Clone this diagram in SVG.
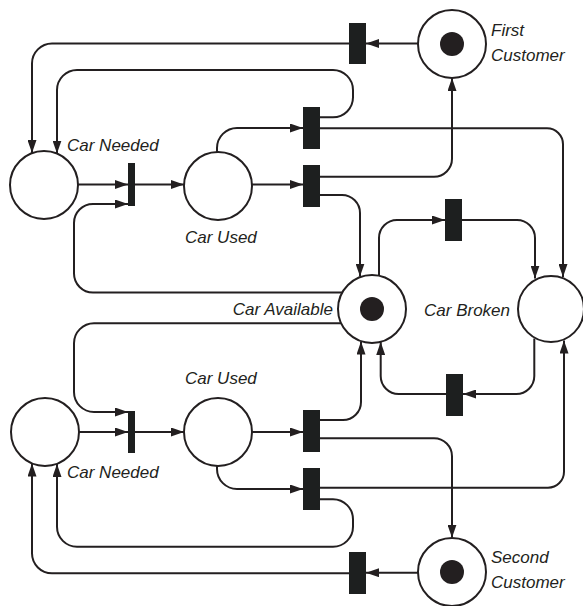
<svg xmlns="http://www.w3.org/2000/svg" width="583" height="606" viewBox="0 0 583 606">
<style>
.p{fill:#fff;stroke:#231f20;stroke-width:2}
.tok{fill:#231f20}
.t{fill:#1d1f1f}
.c{fill:none;stroke:#231f20;stroke-width:2}
.l{font-family:"Liberation Sans",Arial,sans-serif;font-style:italic;font-size:17px;fill:#231f20}
</style>
<defs>
<marker id="a" markerWidth="13" markerHeight="9" refX="13" refY="4.5" orient="auto" markerUnits="userSpaceOnUse"><path d="M0,0 L13,4.5 L0,9 z" fill="#231f20"/></marker>
</defs>
<rect width="583" height="606" fill="#fff"/>
<g id="connectors">
<path class="c" marker-end="url(#a)" d="M418 43.5 H366"/>
<path class="c" marker-end="url(#a)" d="M349 43.5 H52 A20 20 0 0 0 32 63.5 V153"/>
<path class="c" marker-end="url(#a)" d="M320 117.3 H333 A20 20 0 0 0 353 97.3 V90 A20 20 0 0 0 333 70 H77 A20 20 0 0 0 57 90 V153.5"/>
<path class="c" marker-end="url(#a)" d="M217 152 V148 A20 20 0 0 1 237 128 H303"/>
<path class="c" marker-end="url(#a)" d="M320 128.3 H547 A16 16 0 0 1 563 144.3 V277"/>
<path class="c" marker-end="url(#a)" d="M78 184.5 H128"/>
<path class="c" marker-end="url(#a)" d="M135 184.5 H184"/>
<path class="c" marker-end="url(#a)" d="M252 184.5 H303"/>
<path class="c" marker-end="url(#a)" d="M320 176.7 H434 A18 18 0 0 0 452 158.7 V78"/>
<path class="c" marker-end="url(#a)" d="M320 195 H342 A18 18 0 0 1 360 213 V276.5"/>
<path class="c" marker-end="url(#a)" d="M343 292.5 H93 A19 19 0 0 1 74 273.5 V223 A19 19 0 0 1 93 204 H128"/>
<path class="c" marker-end="url(#a)" d="M341 323.3 H94 A20 20 0 0 0 74 343.3 V392 A20 20 0 0 0 94 412 H128"/>
<path class="c" marker-end="url(#a)" d="M379 275.7 V238 A18 18 0 0 1 397 220 H445"/>
<path class="c" marker-end="url(#a)" d="M462 220 H517 A18 18 0 0 1 535 238 V278.5"/>
<path class="c" marker-end="url(#a)" d="M534.3 338.6 V376 A18 18 0 0 1 516.3 394 H463"/>
<path class="c" marker-end="url(#a)" d="M446 394 H398.7 A18 18 0 0 1 380.7 376 V342"/>
<path class="c" marker-end="url(#a)" d="M320 420 H343 A18 18 0 0 0 361 402 V341.5"/>
<path class="c" marker-end="url(#a)" d="M320 438.3 H434 A18 18 0 0 1 452 456.3 V537.7"/>
<path class="c" marker-end="url(#a)" d="M79 432 H128"/>
<path class="c" marker-end="url(#a)" d="M135 432 H184"/>
<path class="c" marker-end="url(#a)" d="M252 432 H303"/>
<path class="c" marker-end="url(#a)" d="M217 466 V469 A20 20 0 0 0 237 489 H303"/>
<path class="c" marker-end="url(#a)" d="M320 487.7 H548 A16 16 0 0 0 564 471.7 V340.5"/>
<path class="c" marker-end="url(#a)" d="M320 499.3 H333 A20 20 0 0 1 353 519.3 V526.7 A20 20 0 0 1 333 546.7 H77 A20 20 0 0 1 57 526.7 V464"/>
<path class="c" marker-end="url(#a)" d="M418 572.7 H366"/>
<path class="c" marker-end="url(#a)" d="M349 573.3 H52 A20 20 0 0 1 32 553.3 V463.5"/>
</g>
<g id="first-customer"><circle class="p" cx="452" cy="44" r="34"/><circle class="tok" cx="452" cy="44" r="12"/><text class="l" x="491" y="36">First</text><text class="l" x="491" y="61">Customer</text></g>
<g id="car-needed-1"><circle class="p" cx="44" cy="185" r="34"/><text class="l" x="67" y="151">Car Needed</text></g>
<g id="car-used-1"><circle class="p" cx="218" cy="186" r="34"/><text class="l" x="185" y="243">Car Used</text></g>
<g id="car-available"><circle class="p" cx="372" cy="309" r="34"/><circle class="tok" cx="372" cy="309" r="12"/><text class="l" x="333" y="315" text-anchor="end">Car Available</text></g>
<g id="car-broken"><circle class="p" cx="551" cy="309" r="33"/><text class="l" x="510" y="316" text-anchor="end">Car Broken</text></g>
<g id="car-needed-2"><circle class="p" cx="45" cy="432" r="34"/><text class="l" x="67" y="478">Car Needed</text></g>
<g id="car-used-2"><circle class="p" cx="218" cy="432" r="34"/><text class="l" x="185" y="384">Car Used</text></g>
<g id="second-customer"><circle class="p" cx="452" cy="572" r="34"/><circle class="tok" cx="452" cy="572" r="12"/><text class="l" x="491" y="563">Second</text><text class="l" x="491" y="588">Customer</text></g>
<g id="t-first"><rect class="t" x="349" y="23" width="17" height="41"/></g>
<g id="t-start-1"><rect class="t" x="128" y="163" width="7" height="43"/></g>
<g id="t-return-1"><rect class="t" x="303" y="107" width="17" height="42"/></g>
<g id="t-finish-1"><rect class="t" x="303" y="165" width="17" height="42"/></g>
<g id="t-break"><rect class="t" x="445" y="199" width="17" height="42"/></g>
<g id="t-repair"><rect class="t" x="446" y="374" width="17" height="42"/></g>
<g id="t-start-2"><rect class="t" x="128" y="411" width="7" height="42"/></g>
<g id="t-finish-2"><rect class="t" x="303" y="410" width="17" height="42"/></g>
<g id="t-return-2"><rect class="t" x="303" y="468" width="17" height="42"/></g>
<g id="t-second"><rect class="t" x="349" y="552" width="17" height="42"/></g>
</svg>
